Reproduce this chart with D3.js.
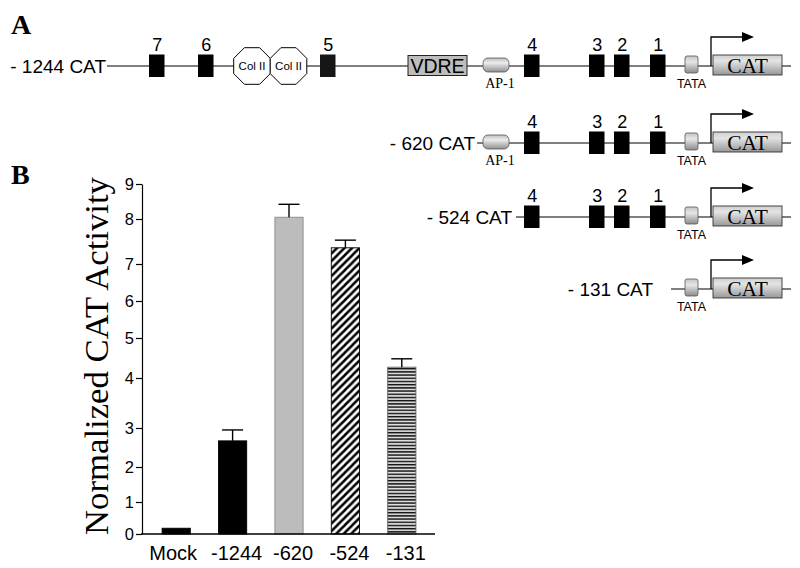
<!DOCTYPE html>
<html>
<head>
<meta charset="utf-8">
<script src="https://cdn.jsdelivr.net/npm/d3@7"></script>
<style>
  html, body { margin: 0; padding: 0; background: #fff; }
  svg { display: block; }
</style>
</head>
<body>
<svg id="chart" width="800" height="568"></svg>
<script>
// ---------------- DATA ----------------
const categories = ["Mock", "-1244", "-620", "-524", "-131"];
const values = [0.18, 2.67, 8.05, 7.36, 4.27];
const errorTops = [0.18, 2.95, 8.42, 7.53, 4.48];
const yTickValues = [0, 1, 2, 3, 4, 5, 6, 7, 8, 9];
const yLabel = "Normalized CAT Activity";

const constructNames = ["- 1244 CAT", "- 620 CAT", "- 524 CAT", "- 131 CAT"];
const siteNames = ["7", "6", "5", "4", "3", "2", "1"];
// elements carried by each construct
const constructElements = [
  ["7", "6", "ColII", "5", "VDRE", "AP-1", "4", "3", "2", "1", "TATA", "CAT"],
  ["AP-1", "4", "3", "2", "1", "TATA", "CAT"],
  ["4", "3", "2", "1", "TATA", "CAT"],
  ["TATA", "CAT"]
];

// ---------------- LAYOUT ----------------
const SANS = "'Liberation Sans', Arial, Helvetica, sans-serif";
const SERIF = "'Liberation Serif', 'Times New Roman', Times, serif";
const svg = d3.select("#chart");
const defs = svg.append("defs");

function vGrad(id, stops) {
  const g = defs.append("linearGradient").attr("id", id)
    .attr("x1", 0).attr("y1", 0).attr("x2", 0).attr("y2", 1);
  stops.forEach(s => g.append("stop").attr("offset", s[0]).attr("stop-color", s[1]));
}
vGrad("gCAT", [[0, "#cfcfcf"], [0.3, "#e4e4e4"], [1, "#979797"]]);
vGrad("gAP", [[0, "#bdbdbd"], [0.35, "#ececec"], [1, "#8f8f8f"]]);
vGrad("gTATA", [[0, "#c4c4c4"], [0.35, "#e6e6e6"], [1, "#8c8c8c"]]);

// hatch patterns: "/" diagonals
const diag = defs.append("pattern").attr("id", "pDiag")
  .attr("patternUnits", "userSpaceOnUse").attr("width", 7.5).attr("height", 7.5);
diag.append("rect").attr("width", 7.5).attr("height", 7.5).attr("fill", "#fff");
diag.append("path").attr("d", "M-1,8.5L8.5,-1M-2,2L2,-2M5.5,9.5L9.5,5.5")
  .attr("stroke", "#000").attr("stroke-width", 2.5);

const horiz = defs.append("pattern").attr("id", "pHoriz")
  .attr("patternUnits", "userSpaceOnUse").attr("width", 10).attr("height", 3.2);
horiz.append("rect").attr("width", 10).attr("height", 3.2).attr("fill", "#f4f4f4");
horiz.append("rect").attr("y", 0).attr("width", 10).attr("height", 1.4).attr("fill", "#111");
horiz.append("rect").attr("y", 2.2).attr("width", 10).attr("height", 0.6).attr("fill", "#aaa");

// Panel letters
svg.append("text").attr("x", 11).attr("y", 34).text("A")
  .attr("font-family", SERIF).attr("font-weight", "bold").attr("font-size", 28);
svg.append("text").attr("x", 11).attr("y", 184).text("B")
  .attr("font-family", SERIF).attr("font-weight", "bold").attr("font-size", 28);

// ---------------- PANEL A: constructs ----------------
const rowY = [66, 143, 217, 289];
const labelEnd = [106, 475, 512, 653];
const lineStart = [107, 477, 516, 671];
const lineEnd = 791;
const siteX = { "7": 149, "6": 198, "5": 320, "4": 524, "3": 589, "2": 614, "1": 650 };
const siteW = 15.5;
const octCenters = [252, 288.5];
const octR = 18.3;
const elemX = { VDRE: [408, 467], "AP-1": [483, 509], TATA: [685, 698], CAT: [713, 782] };
const arrowX = 711;

function octagon(cx, cy, w) {
  const h = w / 2, s = w / (2 + Math.SQRT2); // corner cut
  const pts = [
    [cx - h + s, cy - h], [cx + h - s, cy - h], [cx + h, cy - h + s], [cx + h, cy + h - s],
    [cx + h - s, cy + h], [cx - h + s, cy + h], [cx - h, cy + h - s], [cx - h, cy - h + s]
  ];
  return "M" + pts.map(p => p.join(",")).join("L") + "Z";
}

constructNames.forEach((name, i) => {
  const y = rowY[i];
  const g = svg.append("g");
  g.append("text").attr("x", labelEnd[i]).attr("y", y + 6.5)
    .attr("text-anchor", "end").attr("font-family", SANS).attr("font-size", 19)
    .text(name);
  g.append("line").attr("x1", lineStart[i]).attr("x2", lineEnd)
    .attr("y1", y).attr("y2", y).attr("stroke", "#000").attr("stroke-width", 1.2);
  const els = constructElements[i];
  els.forEach(el => {
    if (siteNames.includes(el)) {
      const x0 = siteX[el];
      g.append("rect").attr("x", x0).attr("y", y - 11.5).attr("width", siteW).attr("height", 22.5)
        .attr("fill", el === "5" ? "#161616" : "#000");
      g.append("text").attr("x", x0 + siteW / 2 + 0.5).attr("y", y - 15)
        .attr("text-anchor", "middle").attr("font-family", SANS).attr("font-size", 18).text(el);
    } else if (el === "ColII") {
      octCenters.forEach(cx => {
        g.append("path").attr("d", octagon(cx, y, octR * 2))
          .attr("fill", "#fff").attr("stroke", "#000").attr("stroke-width", 1);
        g.append("text").attr("x", cx).attr("y", y + 4).attr("text-anchor", "middle")
          .attr("font-family", SANS).attr("font-size", 11.5).text("Col II");
      });
    } else if (el === "VDRE") {
      const [a, b] = elemX.VDRE;
      g.append("rect").attr("x", a).attr("y", y - 10.5).attr("width", b - a).attr("height", 20)
        .attr("fill", "#bdbdbd").attr("stroke", "#222").attr("stroke-width", 1);
      g.append("text").attr("x", (a + b) / 2).attr("y", y + 7).attr("text-anchor", "middle")
        .attr("font-family", SANS).attr("font-size", 19.5).text("VDRE");
    } else if (el === "AP-1") {
      const [a, b] = elemX["AP-1"];
      g.append("rect").attr("x", a).attr("y", y - 8).attr("width", b - a).attr("height", 14)
        .attr("rx", 5).attr("fill", "url(#gAP)").attr("stroke", "#555").attr("stroke-width", 0.8);
      g.append("text").attr("x", (a + b) / 2 + 4).attr("y", y + 22).attr("text-anchor", "middle")
        .attr("font-family", SERIF).attr("font-size", 14).text("AP-1");
    } else if (el === "TATA") {
      const [a, b] = elemX.TATA;
      g.append("rect").attr("x", a).attr("y", y - 10).attr("width", b - a).attr("height", 17)
        .attr("rx", 2).attr("fill", "url(#gTATA)").attr("stroke", "#555").attr("stroke-width", 0.8);
      g.append("text").attr("x", (a + b) / 2).attr("y", y + 22).attr("text-anchor", "middle")
        .attr("font-family", SANS).attr("font-size", 12.5).text("TATA");
    } else if (el === "CAT") {
      const [a, b] = elemX.CAT;
      g.append("path")
        .attr("d", `M${arrowX},${y}V${y - 29}H${arrowX + 33}`)
        .attr("fill", "none").attr("stroke", "#000").attr("stroke-width", 1.3);
      g.append("path")
        .attr("d", `M${arrowX + 31},${y - 34}L${arrowX + 43},${y - 29}L${arrowX + 31},${y - 24}Z`)
        .attr("fill", "#000");
      g.append("rect").attr("x", a).attr("y", y - 11).attr("width", b - a).attr("height", 20)
        .attr("fill", "url(#gCAT)").attr("stroke", "#333").attr("stroke-width", 0.9);
      g.append("text").attr("x", (a + b) / 2).attr("y", y + 6.5).attr("text-anchor", "middle")
        .attr("font-family", SERIF).attr("font-size", 21.5).text("CAT");
    }
  });
});

// ---------------- PANEL B: bar chart ----------------
const y0 = 534;
// The printed axis has unevenly spaced ticks; map each tick to its printed position.
const tickStops = [534, 502, 467, 428, 378, 338, 301, 264, 219, 184];
const y = d3.scaleLinear().domain(yTickValues).range(tickStops);
const x = d3.scaleBand().domain(categories).range([148, 430]).paddingInner(0.5).paddingOuter(0.25);

const fills = ["#000", "#000", "#bcbcbc", "url(#pDiag)", "url(#pHoriz)"];
const strokes = ["#000", "#000", "#8a8a8a", "#000", "#666"];

const chart = svg.append("g");

// bars
chart.selectAll("rect.bar").data(categories).join("rect")
  .attr("class", "bar")
  .attr("x", d => x(d))
  .attr("width", x.bandwidth())
  .attr("y", (d, i) => y(values[i]))
  .attr("height", (d, i) => y0 - y(values[i]))
  .attr("fill", (d, i) => fills[i])
  .attr("stroke", (d, i) => strokes[i])
  .attr("stroke-width", 0.9);

// error bars (upper only)
categories.forEach((c, i) => {
  if (errorTops[i] <= values[i]) return;
  const cx = x(c) + x.bandwidth() / 2;
  chart.append("line").attr("x1", cx).attr("x2", cx)
    .attr("y1", y(values[i])).attr("y2", y(errorTops[i]))
    .attr("stroke", "#000").attr("stroke-width", 1.4);
  chart.append("line").attr("x1", cx - 10.5).attr("x2", cx + 10.5)
    .attr("y1", y(errorTops[i])).attr("y2", y(errorTops[i]))
    .attr("stroke", "#000").attr("stroke-width", 1.4);
});

// y axis
const yAxis = chart.append("g").attr("transform", "translate(142,0)")
  .call(d3.axisLeft(y).tickValues(yTickValues).tickSize(6).tickSizeOuter(0).tickPadding(2));
yAxis.selectAll("text").attr("font-family", SANS).attr("font-size", 16.5).attr("fill", "#000");
yAxis.selectAll("line, path").attr("stroke", "#000").attr("stroke-width", 1.2);

// x axis
const xAxis = chart.append("g").attr("transform", `translate(0,${y0})`)
  .call(d3.axisBottom(x).tickSize(0).tickPadding(12));
xAxis.select(".domain").remove();
xAxis.selectAll("text").attr("font-family", SANS).attr("font-size", 20).attr("fill", "#000")
  .attr("dx", d => d === "Mock" ? -3 : 4);
chart.append("line").attr("x1", 141).attr("x2", 435).attr("y1", y0).attr("y2", y0)
  .attr("stroke", "#000").attr("stroke-width", 1.4);

// y label fitted to its printed length
const yl = svg.append("text")
  .attr("transform", "translate(108,356) rotate(-90)")
  .attr("text-anchor", "middle").attr("font-family", SERIF).attr("font-size", 30)
  .text(yLabel);
const len = yl.node().getComputedTextLength();
yl.attr("font-size", 30 * 358 / len);
</script>
</body>
</html>
